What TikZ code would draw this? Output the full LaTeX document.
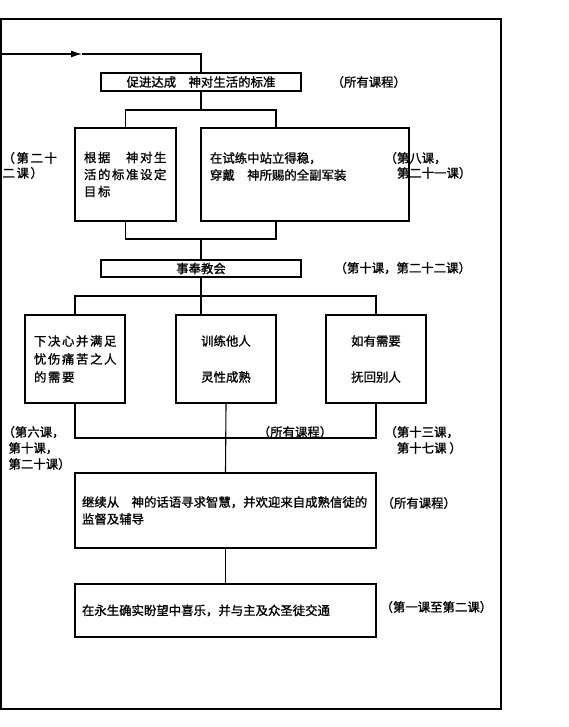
\documentclass[tikz,border=0pt]{standalone}
\usepackage{fontspec}
\setmainfont[FakeBold=1.2, AutoFakeBold=false]{Noto Sans CJK SC}
\newfontfamily\widefont[LetterSpace=13, FakeBold=1.2]{Noto Sans CJK SC}
\usetikzlibrary{calc, arrows.meta, positioning}

\begin{document}
\begin{tikzpicture}[auto, >={Latex[length=11pt, width=7pt]}, x=1pt, y=-1pt, line width=1.1pt]
				\tikzstyle{box} = [draw=black, rectangle, inner sep=0pt, font=\fontsize{12.4}{17}\selectfont]
				\tikzstyle{widebox} = [box, font=\widefont\fontsize{12.4}{17}\selectfont]
				\tikzstyle{invis} = [draw=none, inner sep=0pt, align=left, font=\fontsize{12.4}{16}\selectfont]
				
				\useasboundingbox (0,0) rectangle (568,727);
				\draw (1,19) rectangle (501,709);
				
				\node[box, minimum width=200pt, minimum height=18pt]	at (201, 82)		(b1)	{促进达成　神对生活的标准};
				\node[invis, anchor=west]						at (331, 82)		(l1)	{（所有课程）};
				\node[widebox, minimum width=101pt, minimum height=93pt, align=left, text width=83pt, inner xsep=9pt]
															at (125.5, 174.5)	(b2)	{根据　神对生\\活的标准设定\\目标};
				\node[box, minimum width=208pt, minimum height=93pt, align=left, text width=190pt, inner xsep=9pt]
															at (305, 174.5)		(b3)	{在试练中站立得稳，\\穿戴　神所赐的全副军装\\ \mbox{}};
				\node[invis, anchor=west, font=\widefont\fontsize{12.4}{15}\selectfont]
															at (2, 165.5)		(l2)	{（第二十\\二课）};
				\node[invis, anchor=west, font=\fontsize{12.4}{15}\selectfont]
															at (384, 165.5)		(l3)	{（第八课，\\　第二十一课）};
				\node[box, minimum width=200pt, minimum height=17pt]	at (201, 268.5)		(b4)	{事奉教会};
				\node[invis, anchor=west]						at (334, 268)		(l4)	{（第十课，第二十二课）};
				\node[widebox, minimum width=100pt, minimum height=88pt, align=left, text width=82pt, inner xsep=9pt,
					font=\widefont\fontsize{12.4}{18}\selectfont]
															at (75, 359)		(b5)	{下决心并满足\\忧伤痛苦之人\\的需要};
				\node[box, minimum width=100pt, minimum height=88pt, align=center]
															at (226, 359)		(b6)	{训练他人\\[19pt]灵性成熟};
				\node[box, minimum width=100pt, minimum height=88pt, align=center]
															at (376, 359)		(b7)	{如有需要\\[19pt]抚回别人};
				\node[invis, anchor=west]						at (2, 448)			(l5)	{（第六课，\\\hspace{6pt}第十课，\\\hspace{6pt}第二十课）};
				\node[invis]									at (295, 432)		(l6)	{（所有课程）};
				\node[invis, anchor=west]						at (384, 440)		(l7)	{（第十三课，\\　第十七课 ）};
				\node[box, minimum width=301pt, minimum height=75pt, align=left, text width=287pt, inner xsep=7pt]
															at (225.5, 510.5)	(b8)	{继续从　神的话语寻求智慧，并欢迎来自成熟信徒的\\监督及辅导};
				\node[invis, anchor=west]						at (381, 503)		(l8)	{（所有课程）};
				\node[box, minimum width=301pt, minimum height=53pt, align=left, text width=287pt, inner xsep=7pt]
															at (225.5, 610.5)	(b9)	{在永生确实盼望中喜乐，并与主及众圣徒交通};
				\node[invis, anchor=west]						at (380, 607)		(l9)	{（第一课至第二课）};
				
				\coordinate (fb) at (1, 54);
				\coordinate (fa) at (82, 54);
				\coordinate (j1) at (276, 110);
				\coordinate (j2) at (276, 239);
				\coordinate (j3) at (201, 296);
				\coordinate (j4) at (226, 438);
				
				\draw[->] (fb) -- (fa);
				\draw (fa) -| (b1.north);
				\draw (b1.south) -- (b1.south |- j1);
				\draw (b2.north) |- (j1) -- (j1 |- b3.north);
				\draw (b2.south) |- (j2) -- (j2 |- b3.south);
				\draw (b4.north) -- (b4.north |- j2);
				\draw (b4.south) -- (b4.south |- b6.north);
				\draw (b5.north) |- (j3) -| (b7.north);
				\draw (b5.south) |- (j4) -| (b7.south);
				\draw (b6.south) -- (b8.north);
				\draw (b8.south) -- (b9.north);
			\end{tikzpicture}
\end{document}
